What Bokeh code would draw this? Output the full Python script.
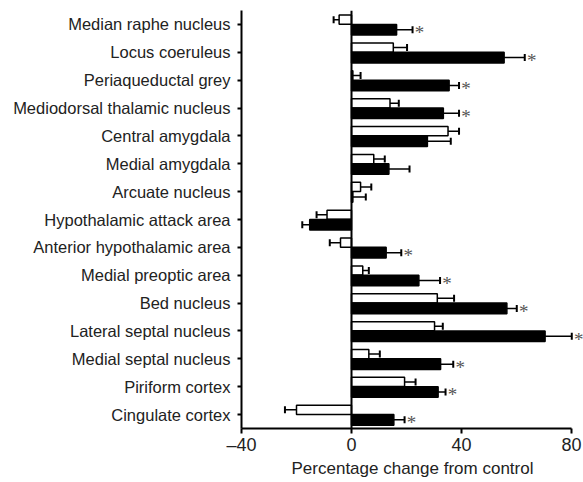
import math
from bokeh.plotting import figure
from bokeh.models import (FactorRange, Range1d, FixedTicker, Span, ColumnDataSource,
                          LabelSet)
from bokeh.transform import dodge
from bokeh.embed import file_html
from bokeh.resources import INLINE

regions = [
    "Median raphe nucleus", "Locus coeruleus", "Periaqueductal grey",
    "Mediodorsal thalamic nucleus", "Central amygdala", "Medial amygdala",
    "Arcuate nucleus", "Hypothalamic attack area", "Anterior hypothalamic area",
    "Medial preoptic area", "Bed nucleus", "Lateral septal nucleus",
    "Medial septal nucleus", "Piriform cortex", "Cingulate cortex",
]
white_vals = [-4.5, 15.2, 0.5, 14.0, 35.1, 8.1, 3.3, -8.9, -4.0, 4.1, 31.2, 30.2, 6.3, 19.3, -20.0]
white_errs = [2.0, 5.0, 2.8, 3.2, 4.0, 4.0, 3.9, 3.8, 3.9, 2.2, 6.1, 3.0, 4.0, 4.0, 4.2]
black_vals = [16.4, 55.5, 35.5, 33.4, 27.6, 13.6, 0.5, -15.2, 12.6, 24.5, 56.5, 70.4, 32.4, 31.5, 15.4]
black_errs = [5.8, 7.5, 3.6, 5.7, 8.5, 7.5, 4.7, 2.7, 5.5, 7.7, 3.6, 9.7, 4.6, 2.7, 3.9]
black_sig = [True, True, True, True, False, False, False, False, True, True, True, True, True, True, True]
x_ticks = [-40, 0, 40, 80]
x_label = "Percentage change from control"


def ends(vals, errs):
    return [v + e if v >= 0 else v - e for v, e in zip(vals, errs)]


src = ColumnDataSource(dict(
    region=regions,
    white=white_vals, white_end=ends(white_vals, white_errs),
    black=black_vals, black_end=ends(black_vals, black_errs),
    zero=[0] * len(regions),
))
sig_src = ColumnDataSource(dict(
    region=[r for r, s in zip(regions, black_sig) if s],
    end=[e for e, s in zip(ends(black_vals, black_errs), black_sig) if s],
    star=["*" for s in black_sig if s],
))

# layout: axis spans -40..80 over 330 px; frame extends 12 px further right so the
# last significance star is not clipped
W, H, LEFT, TOP, BOTTOM = 583, 482, 241, 10, 54
axis_px = 330
extra_px = W - LEFT - axis_px
x_span = x_ticks[-1] - x_ticks[0]
x_end = x_ticks[-1] + extra_px * x_span / axis_px

p = figure(width=W, height=H, output_backend="svg", toolbar_location=None,
           y_range=FactorRange(factors=list(reversed(regions)), range_padding=0),
           x_range=Range1d(x_ticks[0], x_end),
           min_border_left=LEFT, min_border_right=0, min_border_top=TOP, min_border_bottom=BOTTOM)
p.outline_line_color = None
p.grid.visible = False
p.background_fill_color = "white"

yw = dodge("region", 0.17, range=p.y_range)
yb = dodge("region", -0.19, range=p.y_range)

# error lines
p.segment(x0="white", y0=yw, x1="white_end", y1=yw, source=src, line_color="black", line_width=1.5)
p.segment(x0="black", y0=yb, x1="black_end", y1=yb, source=src, line_color="black", line_width=1.5)

# bars
p.hbar(y=yw, height=0.33, left="zero", right="white", source=src,
       fill_color="white", line_color="black", line_width=1.5)
p.hbar(y=yb, height=0.38, left="zero", right="black", source=src,
       fill_color="black", line_color="black", line_width=1.5)

# caps
p.scatter(x="white_end", y=yw, source=src, marker="dash", angle=math.pi / 2, size=7,
          line_color="black", line_width=2)
p.scatter(x="black_end", y=yb, source=src, marker="dash", angle=math.pi / 2, size=7,
          line_color="black", line_width=2)

# significance stars
p.add_layout(LabelSet(x="end", y=dodge("region", -0.19, range=p.y_range), text="star",
                      source=sig_src, x_offset=7, y_offset=-3, text_align="center",
                      text_baseline="middle", text_font="Liberation Serif",
                      text_font_size="19px", text_color="#555555"))

p.add_layout(Span(location=0, dimension="height", line_color="black", line_width=2))

xa = p.xaxis[0]
xa.ticker = FixedTicker(ticks=x_ticks, minor_ticks=[])
xa.bounds = (x_ticks[0], x_ticks[-1])
xa.major_label_overrides = {-40: "\u201340"}
xa.axis_line_width = 2
xa.major_tick_line_width = 2
xa.major_tick_in = 0
xa.major_tick_out = 5
xa.major_label_text_font = "Liberation Sans"
xa.major_label_text_font_size = "18px"
xa.major_label_text_color = "#222222"
xa.major_label_standoff = 1
xa.axis_label = x_label
xa.axis_label_text_font = "Liberation Sans"
xa.axis_label_text_font_size = "17px"
xa.axis_label_text_font_style = "normal"
xa.axis_label_text_color = "#222222"
xa.axis_label_standoff = 1

ya = p.yaxis[0]
ya.axis_line_width = 2
ya.major_tick_line_width = 2
ya.major_tick_in = 0
ya.major_tick_out = 4
ya.major_label_text_font = "Liberation Sans"
ya.major_label_text_font_size = "16.5px"
ya.major_label_text_color = "#222222"
ya.major_label_standoff = 7

open("out.html", "w").write(file_html(p, INLINE))
